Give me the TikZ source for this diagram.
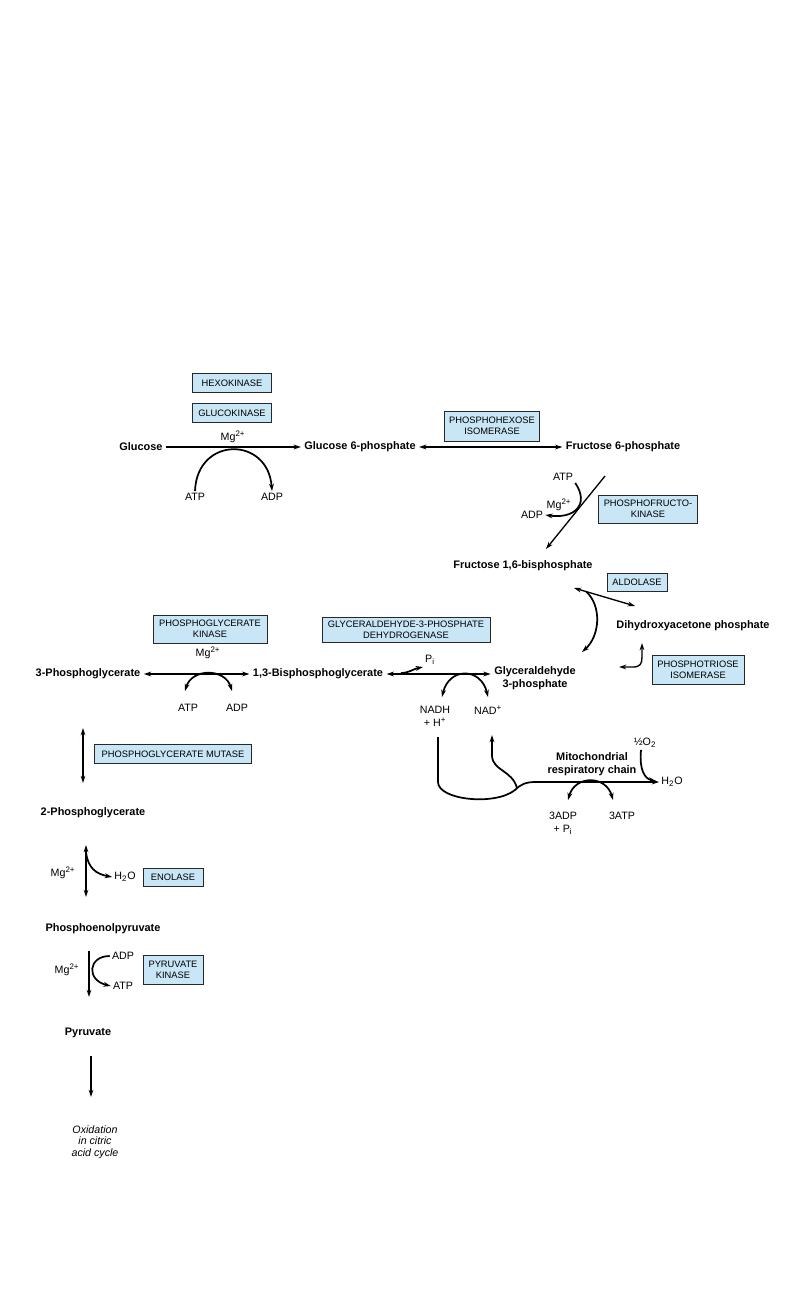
\documentclass[tikz,border=0pt]{standalone}
\usepackage{fontspec}
\setmainfont{Liberation Sans}
\usepackage{tikz}
\usetikzlibrary{arrows.meta, positioning, calc}
\definecolor{EnzBlue}{RGB}{200, 230, 246}
\definecolor{EnzLine}{RGB}{40, 40, 40}

\begin{document}
\begin{tikzpicture}[
    x=0.75pt, y=-0.75pt,
    enz/.style={
      rectangle, draw=EnzLine, fill=EnzBlue, line width=0.6pt,
      font=\fontsize{7}{8}\selectfont, align=center, inner sep=1.5pt
    },
    met/.style={font=\fontsize{8.2}{9.6}\selectfont\bfseries, align=center, inner sep=2.5pt},
    lab/.style={font=\fontsize{8}{10}\selectfont, align=center, inner sep=1.5pt},
    arr/.style={-{Stealth[length=5.5pt,width=3.6pt]}, line width=1pt},
    darr/.style={{Stealth[length=5.5pt,width=3.6pt]}-{Stealth[length=5.5pt,width=3.6pt]}, line width=1pt},
    carr/.style={-{Stealth[length=5.5pt,width=3.6pt]}, line width=1.3pt},
    dcarr/.style={{Stealth[length=5.5pt,width=3.6pt]}-{Stealth[length=5.5pt,width=3.6pt]}, line width=1.3pt}
  ]
    \useasboundingbox[fill=white] (0,0) rectangle (810,1296);

    % enzymes
    \node[enz, minimum width=59pt, minimum height=14pt]   (hk)    at (232,383) {HEXOKINASE};
    \node[enz, minimum width=59pt, minimum height=14pt]   (gk)    at (232,413) {GLUCOKINASE};
    \node[enz, minimum width=71pt, minimum height=22.5pt] (pgi)   at (492,426) {PHOSPHOHEXOSE\\ISOMERASE};
    \node[enz, minimum width=74pt, minimum height=21pt]   (pfk)   at (648,509) {PHOSPHOFRUCTO-\\KINASE};
    \node[enz, minimum width=45pt, minimum height=13.5pt] (ald)   at (637,582) {ALDOLASE};
    \node[enz, minimum width=69pt, minimum height=22pt]   (tpi)   at (698,670) {PHOSPHOTRIOSE\\ISOMERASE};
    \node[enz, minimum width=126pt, minimum height=19pt]  (gapdh) at (406,630) {GLYCERALDEHYDE-3-PHOSPHATE\\DEHYDROGENASE};
    \node[enz, minimum width=85.5pt, minimum height=21pt] (pgk)   at (210,629) {PHOSPHOGLYCERATE\\KINASE};
    \node[enz, minimum width=118pt, minimum height=14pt]  (pgm)   at (173,754) {PHOSPHOGLYCERATE MUTASE};
    \node[enz, minimum width=45pt, minimum height=13.5pt] (eno)   at (173,877) {ENOLASE};
    \node[enz, minimum width=45pt, minimum height=22pt]   (pk)    at (173,970) {PYRUVATE\\KINASE};

    % metabolites
    \node[met] (glc)   at (141,447) {Glucose};
    \node[met] (g6p)   at (360,447) {Glucose 6-phosphate};
    \node[met] (f6p)   at (623,447) {Fructose 6-phosphate};
    \node[met] (f16bp) at (523,566) {Fructose 1,6-bisphosphate};
    \node[met] (dhap)  at (693,626) {Dihydroxyacetone phosphate};
    \node[met] (gap)   at (535,678) {Glyceraldehyde\\3-phosphate};
    \node[met] (bpg)   at (318,674) {1,3-Bisphosphoglycerate};
    \node[met] (pg3)   at (88,674)  {3-Phosphoglycerate};
    \node[met] (pg2)   at (93,813)  {2-Phosphoglycerate};
    \node[met] (pep)   at (103,929) {Phosphoenolpyruvate};
    \node[met] (pyr)   at (88,1033) {Pyruvate};
    \node[met] (resp)  at (592,764) {Mitochondrial\\respiratory chain};
    \node[lab, font=\fontsize{8}{8.6}\selectfont\itshape] (ox) at (95,1142) {Oxidation\\in citric\\acid cycle};

    % cofactors
    \node[lab] (mg1)  at (233,437) {Mg\textsuperscript{2+}};
    \node[lab] (atp1) at (195,497) {ATP};
    \node[lab] (adp1) at (272,497) {ADP};
    \node[lab] (atp2) at (563,477) {ATP};
    \node[lab] (mg2)  at (559,505) {Mg\textsuperscript{2+}};
    \node[lab] (adp2) at (532,515) {ADP};
    \node[lab] (pi)   at (430,660) {P\textsubscript{i}};
    \node[lab] (nadh) at (435,716) {NADH\\+ H\textsuperscript{+}};
    \node[lab] (nad)  at (488,710) {NAD\textsuperscript{+}};
    \node[lab] (o2)   at (645,743) {½O\textsubscript{2}};
    \node[lab] (h2o)  at (672,782) {H\textsubscript{2}O};
    \node[lab] (adp4) at (563,823) {3ADP\\+ P\textsubscript{i}};
    \node[lab] (atp4) at (622,816) {3ATP};
    \node[lab] (mg3)  at (208,653) {Mg\textsuperscript{2+}};
    \node[lab] (atp3) at (188,708) {ATP};
    \node[lab] (adp3) at (237,708) {ADP};
    \node[lab] (mg4)  at (63,873)  {Mg\textsuperscript{2+}};
    \node[lab] (h2o2) at (125,877) {H\textsubscript{2}O};
    \node[lab] (mg5)  at (67,970)  {Mg\textsuperscript{2+}};
    \node[lab] (adp5) at (123,956) {ADP};
    \node[lab] (atp5) at (123,986) {ATP};

    % free ends
    \coordinate (pfktop)  at (605,476);
    \coordinate (pfkend)  at (546,549);
    \coordinate (aldL)    at (574,588);
    \coordinate (aldR)    at (635,606);
    \coordinate (aldtip)  at (582,652);
    \coordinate (tpiA)    at (619,667);
    \coordinate (tpiB)    at (642,643);
    \coordinate (pistart) at (401,673);
    \coordinate (nadhtip) at (442,697);
    \coordinate (nadtip)  at (488,697);
    \coordinate (nadhdown) at (438,737);
    \coordinate (junc)    at (517,788);
    \coordinate (nadup)   at (492,735);
    \coordinate (o2tip)   at (656,781);
    \coordinate (rcA)     at (568,800);
    \coordinate (rcB)     at (613,800);
    \coordinate (pgkA)    at (185,691);
    \coordinate (pgkB)    at (232,691);
    \coordinate (pgmA)    at (83,728);
    \coordinate (pgmB)    at (83,783);
    \coordinate (enoA)    at (86,845);
    \coordinate (enoB)    at (86,897);
    \coordinate (pkA)     at (89,951);
    \coordinate (pkB)     at (89,997);
    \coordinate (pyrA)    at (91,1056);
    \coordinate (pyrB)    at (91,1097);

    % glucose -> fructose 1,6-bisphosphate
    \draw[arr]  (glc) -- (g6p);
    \draw[carr] (atp1.north) .. controls (197,436) and (268,436) .. (adp1.north);
    \draw[darr] (g6p) -- (f6p);
    \draw[arr]  (pfktop) -- (pfkend);
    \draw[carr] (atp2.south east) .. controls (590,505) and (574,519) .. (adp2.east);

    % aldolase, triose phosphates
    \draw[darr] (aldL) -- (aldR);
    \draw[carr] ($(aldL)!0.2!(aldR)$) .. controls (602,606) and (600,636) .. (aldtip);
    \draw[darr] (tpiA) -- (633,667) .. controls (640,667) and (642,664) .. (642,657) -- (tpiB);

    % glyceraldehyde-3-phosphate dehydrogenase
    \draw[darr]  (bpg.east) -- (bpg.east -| gap.west);
    \draw[carr]  (pistart) .. controls (409,673) and (413,669) .. (pi.south west);
    \draw[dcarr] (nadhtip) .. controls (449,667) and (481,667) .. (nadtip);

    % respiratory chain
    \draw[carr] (nadhdown) -- (438,782) .. controls (438,800) and (495,806) .. (515,790)
                .. controls (521,784) and (526,782) .. (536,782) -- (h2o.west);
    \draw[carr] (junc) .. controls (512,770) and (493,771) .. (492,756) -- (nadup);
    \draw[carr] ([xshift=-3pt]o2.south) .. controls (639,770) and (645,779) .. (o2tip);
    \draw[dcarr] (rcA) .. controls (575,775) and (606,775) .. (rcB);

    % phosphoglycerate kinase
    \draw[darr]  (pg3.east) -- (pg3.east -| bpg.west);
    \draw[dcarr] (pgkA) .. controls (192,668) and (225,668) .. (pgkB);

    % mutase, enolase, pyruvate kinase
    \draw[darr] (pgmA) -- (pgmB);
    \draw[darr] (enoA) -- (enoB);
    \draw[carr] ($(enoA)!0.14!(enoB)$) .. controls (88,868) and (96,874) .. (h2o2.west);
    \draw[arr]  (pkA) -- (pkB);
    \draw[carr] (adp5.west) .. controls (88,956) and (86,980) .. (atp5.west);
    \draw[arr]  (pyrA) -- (pyrB);
  \end{tikzpicture}
\end{document}
